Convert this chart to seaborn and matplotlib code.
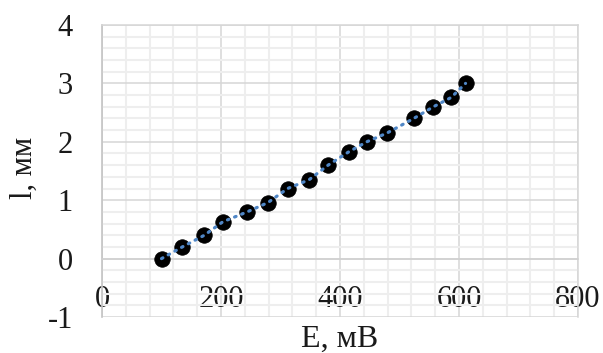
import matplotlib
matplotlib.use("Agg")
import matplotlib.pyplot as plt
import seaborn as sns
import pandas as pd
from matplotlib.ticker import MultipleLocator, FixedLocator

# Measured length change vs. EMF
e_mv = [100, 135, 172, 203, 244, 279, 312, 348, 380, 415, 445, 479, 524, 557, 587, 611]
l_mm = [0.0, 0.2, 0.4, 0.63, 0.8, 0.96, 1.2, 1.35, 1.6, 1.83, 2.0, 2.15, 2.4, 2.6, 2.76, 3.0]
x_ticks = [0, 200, 400, 600, 800]
y_ticks = [-1, 0, 1, 2, 3, 4]
x_label = "E, мВ"
y_label = "l, мм"

df = pd.DataFrame({"E": e_mv, "l": l_mm})

sns.set_theme(style="white")
plt.rcParams["font.family"] = ["Liberation Serif", "DejaVu Serif"]

fig = plt.figure(figsize=(6.03, 3.53), dpi=100)
ax = fig.add_axes([102 / 603, 1 - 317 / 353, 476 / 603, 292 / 353])

ax.set_xlim(x_ticks[0], x_ticks[-1])
ax.set_ylim(y_ticks[0], y_ticks[-1])

# grid: major and minor
ax.xaxis.set_major_locator(FixedLocator(x_ticks))
ax.yaxis.set_major_locator(FixedLocator(y_ticks))
ax.xaxis.set_minor_locator(MultipleLocator(40))
ax.yaxis.set_minor_locator(MultipleLocator(0.2))
ax.grid(which="minor", color="#eeeeee", linewidth=1.5, zorder=0)
ax.grid(which="major", color="#d6d6d6", linewidth=1.1, zorder=0.5)
ax.set_axisbelow(True)

sns.scatterplot(data=df, x="E", y="l", ax=ax, color="black", s=125,
                edgecolor="black", linewidth=0.5, zorder=3, legend=False)
sns.lineplot(data=df, x="E", y="l", ax=ax, color="#4f86c6", linewidth=2.3,
             dashes=False, zorder=4, legend=False)
ax.lines[-1].set_linestyle((0, (0.5, 1.9)))
ax.lines[-1].set_dash_capstyle("round")

for side in ["top", "right"]:
    ax.spines[side].set_color("#d6d6d6")
    ax.spines[side].set_linewidth(1.1)
ax.spines["left"].set_color("#c4c4c4")
ax.spines["left"].set_linewidth(1.2)
ax.spines["bottom"].set_position(("data", 0))
ax.spines["bottom"].set_color("#d0d0d0")
ax.spines["bottom"].set_linewidth(1.1)

ax.set_xticklabels([str(v) for v in x_ticks])
ax.set_yticklabels([str(v) for v in y_ticks])
ax.tick_params(axis="x", which="both", length=0, pad=19, labelsize=22, labelcolor="#1a1a1a")
ax.tick_params(axis="y", which="both", length=0, pad=21, labelsize=22, labelcolor="#1a1a1a")

ax.set_xlabel("")
ax.set_ylabel("")
fig.text(340 / 603, 1 - 339 / 353, x_label, ha="center", va="center",
         fontsize=23, color="#1a1a1a")
fig.text(24 / 603, 1 - 168 / 353, y_label, ha="center", va="center",
         rotation=90, fontsize=22, color="#1a1a1a")

fig.savefig("out.png", dpi=100)
